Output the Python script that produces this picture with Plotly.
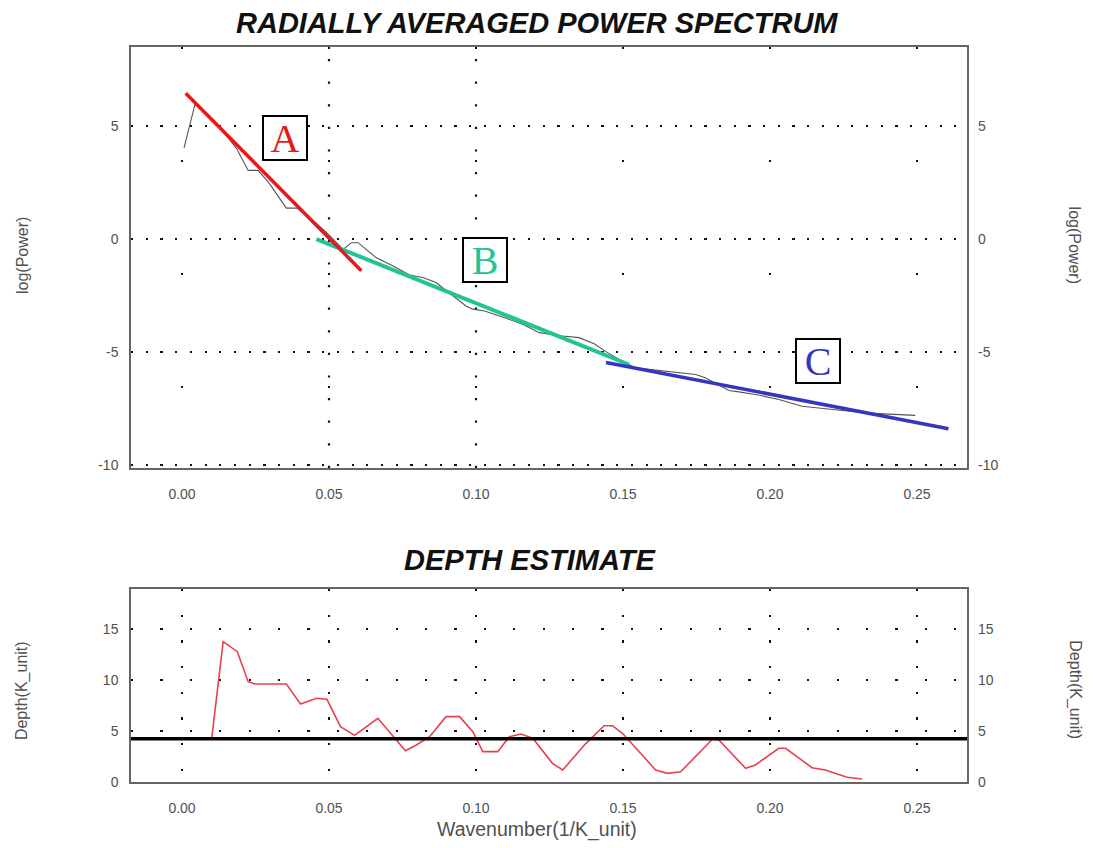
import plotly.graph_objects as go

# ---------------- data ----------------
# Radially averaged power spectrum (log power vs wavenumber)
spec_k = [0.0007, 0.0044, 0.0080, 0.0120, 0.0150, 0.0186, 0.0225, 0.0259, 0.0295, 0.0333,
          0.0355, 0.0390, 0.0430, 0.0491, 0.0548, 0.0576, 0.0599, 0.0661, 0.0720, 0.0774,
          0.0819, 0.0864, 0.0915, 0.0966, 0.0989, 0.1029, 0.1090, 0.1159, 0.1215, 0.1294,
          0.1351, 0.1402, 0.1442, 0.1487, 0.1543, 0.1610, 0.1679, 0.1747, 0.1780, 0.1860,
          0.1894, 0.1960, 0.2030, 0.2109, 0.2222, 0.2335, 0.2494]
spec_logp = [4.04, 5.96, 5.60, 5.10, 4.60, 4.00, 3.04, 3.04, 2.50, 1.79,
             1.37, 1.37, 1.00, 0.30, -0.46, -0.16, -0.16, -0.83, -1.20, -1.59,
             -1.70, -1.92, -2.45, -2.96, -3.10, -3.18, -3.45, -3.77, -4.14, -4.29,
             -4.36, -4.63, -4.98, -5.33, -5.70, -5.80, -5.92, -5.99, -6.14, -6.70,
             -6.76, -6.90, -7.10, -7.40, -7.55, -7.70, -7.80]

# Linear fits for the three segments
fit_a_k = [0.00126, 0.0610]
fit_a_y = [6.45, -1.40]
fit_b_k = [0.0457, 0.1520]
fit_b_y = [0.00, -5.55]
fit_c_k = [0.1442, 0.2607]
fit_c_y = [-5.46, -8.39]

# Segment labels (position in data units)
seg_labels = ["A", "B", "C"]
seg_label_k = [0.0350, 0.1030, 0.2163]
seg_label_y = [4.47, -0.93, -5.40]
seg_colors = ["#e81818", "#22c496", "#3535c0"]

# Depth estimate
depth_k = [0.0101, 0.0140, 0.0188, 0.0225, 0.0248, 0.0355, 0.0403, 0.0457, 0.0493, 0.0539,
           0.0587, 0.0666, 0.0760, 0.0797, 0.0842, 0.0898, 0.0944, 0.0989, 0.1023, 0.1074,
           0.1113, 0.1153, 0.1193, 0.1260, 0.1295, 0.1374, 0.1436, 0.1464, 0.1498, 0.1611,
           0.1651, 0.1696, 0.1804, 0.1826, 0.1917, 0.1950, 0.2030, 0.2053, 0.2143, 0.2188,
           0.2262, 0.2313]
depth_val = [4.24, 13.74, 12.76, 9.82, 9.60, 9.60, 7.64, 8.20, 8.10, 5.42,
             4.57, 6.24, 3.07, 3.62, 4.44, 6.40, 6.40, 4.93, 2.97, 2.97,
             4.44, 4.70, 4.28, 1.83, 1.18, 3.79, 5.51, 5.51, 4.77, 1.18,
             0.85, 1.00, 4.18, 4.11, 1.34, 1.67, 3.30, 3.30, 1.40, 1.18,
             0.46, 0.29]
depth_mean = 4.24

x_ticks = [0.00, 0.05, 0.10, 0.15, 0.20, 0.25]
x_ticktext = ["0.00", "0.05", "0.10", "0.15", "0.20", "0.25"]
power_ticks = [5, 0, -5, -10]
power_ticktext = ["5", "0", "-5", "-10"]
depth_ticks = [0, 5, 10, 15]
depth_ticktext = ["0", "5", "10", "15"]
dense_grid_k = [0.05, 0.10]

# ---------------- figure ----------------
X_RANGE = [-0.01735, 0.267]
P_RANGE = [-10.13, 8.5]
D_RANGE = [0, 18.9]

TICK_FONT = dict(family="Liberation Sans, Arial, sans-serif", size=14, color="#505050")
FRAME = "#666666"

fig = go.Figure()

fig.add_trace(go.Scatter(x=spec_k, y=spec_logp, mode="lines",
                         line=dict(color="#555555", width=1.1),
                         xaxis="x", yaxis="y", showlegend=False))
fig.add_trace(go.Scatter(x=fit_b_k, y=fit_b_y, mode="lines",
                         line=dict(color=seg_colors[1], width=4),
                         xaxis="x", yaxis="y", showlegend=False))
fig.add_trace(go.Scatter(x=fit_c_k, y=fit_c_y, mode="lines",
                         line=dict(color=seg_colors[2], width=3.5),
                         xaxis="x", yaxis="y", showlegend=False))
fig.add_trace(go.Scatter(x=fit_a_k, y=fit_a_y, mode="lines",
                         line=dict(color=seg_colors[0], width=3.5),
                         xaxis="x", yaxis="y", showlegend=False))
# dummy traces for right-hand axes
fig.add_trace(go.Scatter(x=[None], y=[None], xaxis="x", yaxis="y3", showlegend=False))
fig.add_trace(go.Scatter(x=[None], y=[None], xaxis="x2", yaxis="y4", showlegend=False))

fig.add_trace(go.Scatter(x=depth_k, y=depth_val, mode="lines",
                         line=dict(color="#e8404c", width=1.6),
                         xaxis="x2", yaxis="y2", showlegend=False))

TOP_DOM = [0.4272, 1.0]
BOT_DOM = [0.0, 0.2626]

common_x = dict(range=X_RANGE, tickvals=x_ticks, ticktext=x_ticktext, tickfont=TICK_FONT,
                showline=True, mirror=True, linecolor=FRAME, linewidth=1.5,
                zeroline=False, ticks="", ticklabelstandoff=12)

fig.update_layout(
    width=1093, height=848,
    margin=dict(l=123, r=134, t=39, b=74, autoexpand=False),
    paper_bgcolor="white", plot_bgcolor="white",
    xaxis=dict(**common_x, domain=[0, 1], anchor="y",
               showgrid=True, gridcolor="#111111", gridwidth=2.2, griddash="2.2px,110.8px"),
    yaxis=dict(domain=TOP_DOM, range=P_RANGE, tickvals=power_ticks, ticktext=power_ticktext,
               tickfont=TICK_FONT,
               showline=True, mirror=True, linecolor=FRAME, linewidth=1.5, ticks="",
               zeroline=False, showgrid=True, gridcolor="#111111", gridwidth=2.2,
               griddash="2.2px,12.5px", anchor="x", ticklabelstandoff=8),
    yaxis3=dict(overlaying="y", side="right", range=P_RANGE, tickvals=power_ticks,
                ticktext=power_ticktext,
                tickfont=TICK_FONT, showgrid=False, zeroline=False, ticks="",
                showline=False, anchor="x", ticklabelstandoff=10),
    xaxis2=dict(**common_x, domain=[0, 1], anchor="y2",
                showgrid=True, gridcolor="#111111", gridwidth=2.2, griddash="2.2px,23.5px"),
    yaxis2=dict(domain=BOT_DOM, range=D_RANGE, tickvals=depth_ticks, ticktext=depth_ticktext,
                tickfont=TICK_FONT,
                showline=True, mirror=True, linecolor=FRAME, linewidth=1.5, ticks="",
                zeroline=False, showgrid=True, gridcolor="#111111", gridwidth=2.2,
                griddash="2.2px,27.2px", anchor="x2", ticklabelstandoff=8),
    yaxis4=dict(overlaying="y2", side="right", range=D_RANGE, tickvals=depth_ticks,
                ticktext=depth_ticktext,
                tickfont=TICK_FONT, showgrid=False, zeroline=False, ticks="",
                showline=False, anchor="x2", ticklabelstandoff=10),
)

# dense dotted vertical grid lines in the spectrum panel
for k in dense_grid_k:
    fig.add_shape(type="line", xref="x", yref="y domain", x0=k, x1=k, y0=0, y1=1,
                  line=dict(color="#111111", width=2.2, dash="2.2px,20.4px"), layer="below")

# mean depth line
fig.add_shape(type="line", xref="x2 domain", yref="y2", x0=0, x1=1,
              y0=depth_mean, y1=depth_mean, line=dict(color="black", width=3.5))

# segment labels
for lab, k, y, c in zip(seg_labels, seg_label_k, seg_label_y, seg_colors):
    fig.add_annotation(x=k, y=y, xref="x", yref="y", text=lab, showarrow=False,
                       xanchor="center", yanchor="middle",
                       font=dict(family="Liberation Serif, Times New Roman, serif",
                                 size=40, color=c),
                       width=42, height=42, borderpad=0, bordercolor="black",
                       borderwidth=2, bgcolor="white", align="center", valign="middle")

TITLE_FONT = dict(family="Liberation Sans, Arial, sans-serif", size=29, color="#111111")


def txt(x, y, text, font, angle=0):
    fig.add_annotation(x=x, y=y, xref="paper", yref="paper", text=text, showarrow=False,
                       xanchor="center", yanchor="middle", textangle=angle, font=font)


txt(0.486, 1.032, "<b><i>RADIALLY AVERAGED POWER SPECTRUM</i></b>", TITLE_FONT)
txt(0.477, 0.302, "<b><i>DEPTH ESTIMATE</i></b>", TITLE_FONT)

LAB_FONT = dict(family="Liberation Sans, Arial, sans-serif", size=16, color="#505050")
txt(-0.1304, 0.717, "log(Power)", LAB_FONT, -90)
txt(1.129, 0.73, "log(Power)", LAB_FONT, 90)
txt(-0.1304, 0.125, "Depth(K_unit)", LAB_FONT, -90)
txt(1.129, 0.125, "Depth(K_unit)", LAB_FONT, 90)
txt(0.486, -0.0653, "Wavenumber(1/K_unit)",
    dict(family="Liberation Sans, Arial, sans-serif", size=19.5, color="#505050"))

fig.write_html("out.html")
